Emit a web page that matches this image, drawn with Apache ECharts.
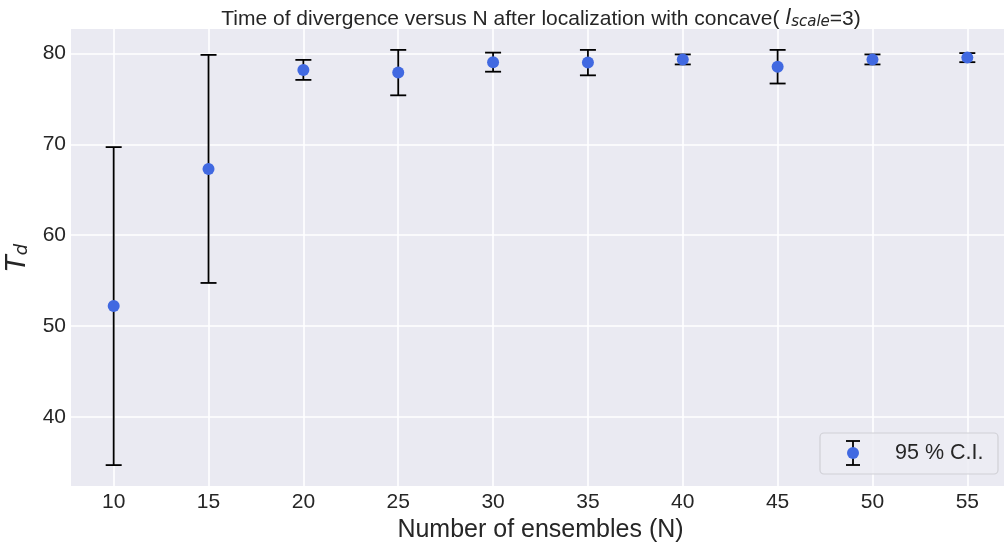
<!DOCTYPE html>
<html>
<head>
<meta charset="utf-8">
<script src="https://cdn.jsdelivr.net/npm/echarts@6/dist/echarts.min.js"></script>
<style>
  html, body { margin: 0; padding: 0; background: #ffffff; }
  #chart { width: 1004px; height: 543px; }
</style>
</head>
<body>
<div id="chart"></div>
<script>
// Ensemble sizes and divergence time with 95 % confidence half-widths
const ensembleSizes = [10, 15, 20, 25, 30, 35, 40, 45, 50, 55];
const meanTd        = [52.2, 67.3, 78.2, 77.9, 79.05, 79.0, 79.35, 78.55, 79.35, 79.55];
const ciHalfWidth   = [17.5, 12.55, 1.1, 2.5, 1.05, 1.4, 0.55, 1.85, 0.55, 0.5];
const xTicks = [10, 15, 20, 25, 30, 35, 40, 45, 50, 55];
const yTicks = [40, 50, 60, 70, 80];
const seriesName = '95 % C.I.';

const TEXT = '#262626';
const POINT = '#4169E1';
const FONT = '"Liberation Sans", Arial, sans-serif';
const MATH = '"DejaVu Sans", sans-serif';

const chart = echarts.init(document.getElementById('chart'), null, { renderer: 'canvas' });

const errData = ensembleSizes.map((n, i) => [n, meanTd[i] - ciHalfWidth[i], meanTd[i] + ciHalfWidth[i]]);
const pointData = ensembleSizes.map((n, i) => [n, meanTd[i]]);

function renderErrorBar(params, api) {
  const x = api.value(0);
  const lo = api.coord([x, api.value(1)]);
  const hi = api.coord([x, api.value(2)]);
  const cap = 8;
  const style = { stroke: '#000000', lineWidth: 1.8, fill: null };
  return {
    type: 'group',
    children: [
      { type: 'line', shape: { x1: lo[0], y1: lo[1], x2: hi[0], y2: hi[1] }, style },
      { type: 'line', shape: { x1: hi[0] - cap, y1: hi[1], x2: hi[0] + cap, y2: hi[1] }, style },
      { type: 'line', shape: { x1: lo[0] - cap, y1: lo[1], x2: lo[0] + cap, y2: lo[1] }, style }
    ]
  };
}

// Legend box drawn as graphics: error-bar handle with marker and label
const legendX = 820, legendY = 433, legendW = 178, legendH = 41;
const hx = 853, hy = 453;

const option = {
  backgroundColor: '#ffffff',
  animation: false,
  title: {
    text: 'Time of divergence versus N after localization with concave( {it|l}{sub|scale}=3)',
    left: 536,
    textAlign: 'center',
    top: 3,
    textStyle: {
      fontFamily: FONT,
      fontSize: 21,
      fontWeight: 'normal',
      color: TEXT,
      rich: {
        it: { fontFamily: MATH, fontStyle: 'italic', fontSize: 21, color: TEXT },
        sub: { fontFamily: MATH, fontStyle: 'italic', fontSize: 15, color: TEXT, verticalAlign: 'bottom', padding: [7, 0, 0, 0] }
      }
    }
  },
  grid: {
    left: 71,
    top: 29,
    width: 939,
    height: 457,
    outerBoundsMode: 'none',
    containLabel: false,
    show: true,
    backgroundColor: '#EAEAF2',
    borderWidth: 0
  },
  xAxis: {
    type: 'value',
    min: 7.75,
    max: 57.25,
    name: 'Number of ensembles (N)',
    nameLocation: 'middle',
    nameGap: 25,
    nameTextStyle: { fontFamily: FONT, fontSize: 25, color: TEXT },
    axisLine: { show: false },
    axisTick: { show: false, customValues: xTicks },
    axisLabel: { customValues: xTicks, fontFamily: FONT, fontSize: 21, color: TEXT, margin: 6 },
    splitLine: { show: true, lineStyle: { color: '#ffffff', width: 1.6 } }
  },
  yAxis: {
    type: 'value',
    min: 32.4,
    max: 82.7,
    name: '{t|T}{d|d}',
    nameLocation: 'middle',
    nameGap: 30,
    nameRotate: 90,
    nameTextStyle: {
      rich: {
        t: { fontFamily: MATH, fontStyle: 'italic', fontSize: 26, color: TEXT },
        d: { fontFamily: MATH, fontStyle: 'italic', fontSize: 18, color: TEXT, verticalAlign: 'bottom', padding: [9, 0, 0, 0] }
      }
    },
    axisLine: { show: false },
    axisTick: { show: false, customValues: yTicks },
    axisLabel: { customValues: yTicks, fontFamily: FONT, fontSize: 21, color: TEXT, margin: 5 },
    splitLine: { show: true, lineStyle: { color: '#ffffff', width: 1.6 } }
  },
  series: [
    {
      name: seriesName,
      type: 'custom',
      renderItem: renderErrorBar,
      data: errData,
      encode: { x: 0, y: [1, 2] },
      z: 2
    },
    {
      name: seriesName,
      type: 'scatter',
      data: pointData,
      symbol: 'circle',
      symbolSize: 12,
      itemStyle: { color: POINT, opacity: 1 },
      z: 3
    }
  ],
  graphic: [
    {
      type: 'rect',
      shape: { x: legendX, y: legendY, width: legendW, height: legendH, r: 4 },
      style: { fill: 'rgba(236,236,243,0.85)', stroke: '#d0d0d6', lineWidth: 1.2 },
      z: 10
    },
    { type: 'line', shape: { x1: hx, y1: hy - 12, x2: hx, y2: hy + 12 }, style: { stroke: '#000', lineWidth: 1.8 }, z: 11 },
    { type: 'line', shape: { x1: hx - 7, y1: hy - 12, x2: hx + 7, y2: hy - 12 }, style: { stroke: '#000', lineWidth: 1.8 }, z: 11 },
    { type: 'line', shape: { x1: hx - 7, y1: hy + 12, x2: hx + 7, y2: hy + 12 }, style: { stroke: '#000', lineWidth: 1.8 }, z: 11 },
    { type: 'circle', shape: { cx: hx, cy: hy, r: 6 }, style: { fill: POINT }, z: 12 },
    {
      type: 'text',
      x: 895,
      y: hy,
      style: { text: seriesName, fontFamily: FONT, fontSize: 21.5, fill: TEXT, verticalAlign: 'middle', align: 'left' },
      z: 12
    }
  ]
};

chart.setOption(option);
</script>
</body>
</html>
